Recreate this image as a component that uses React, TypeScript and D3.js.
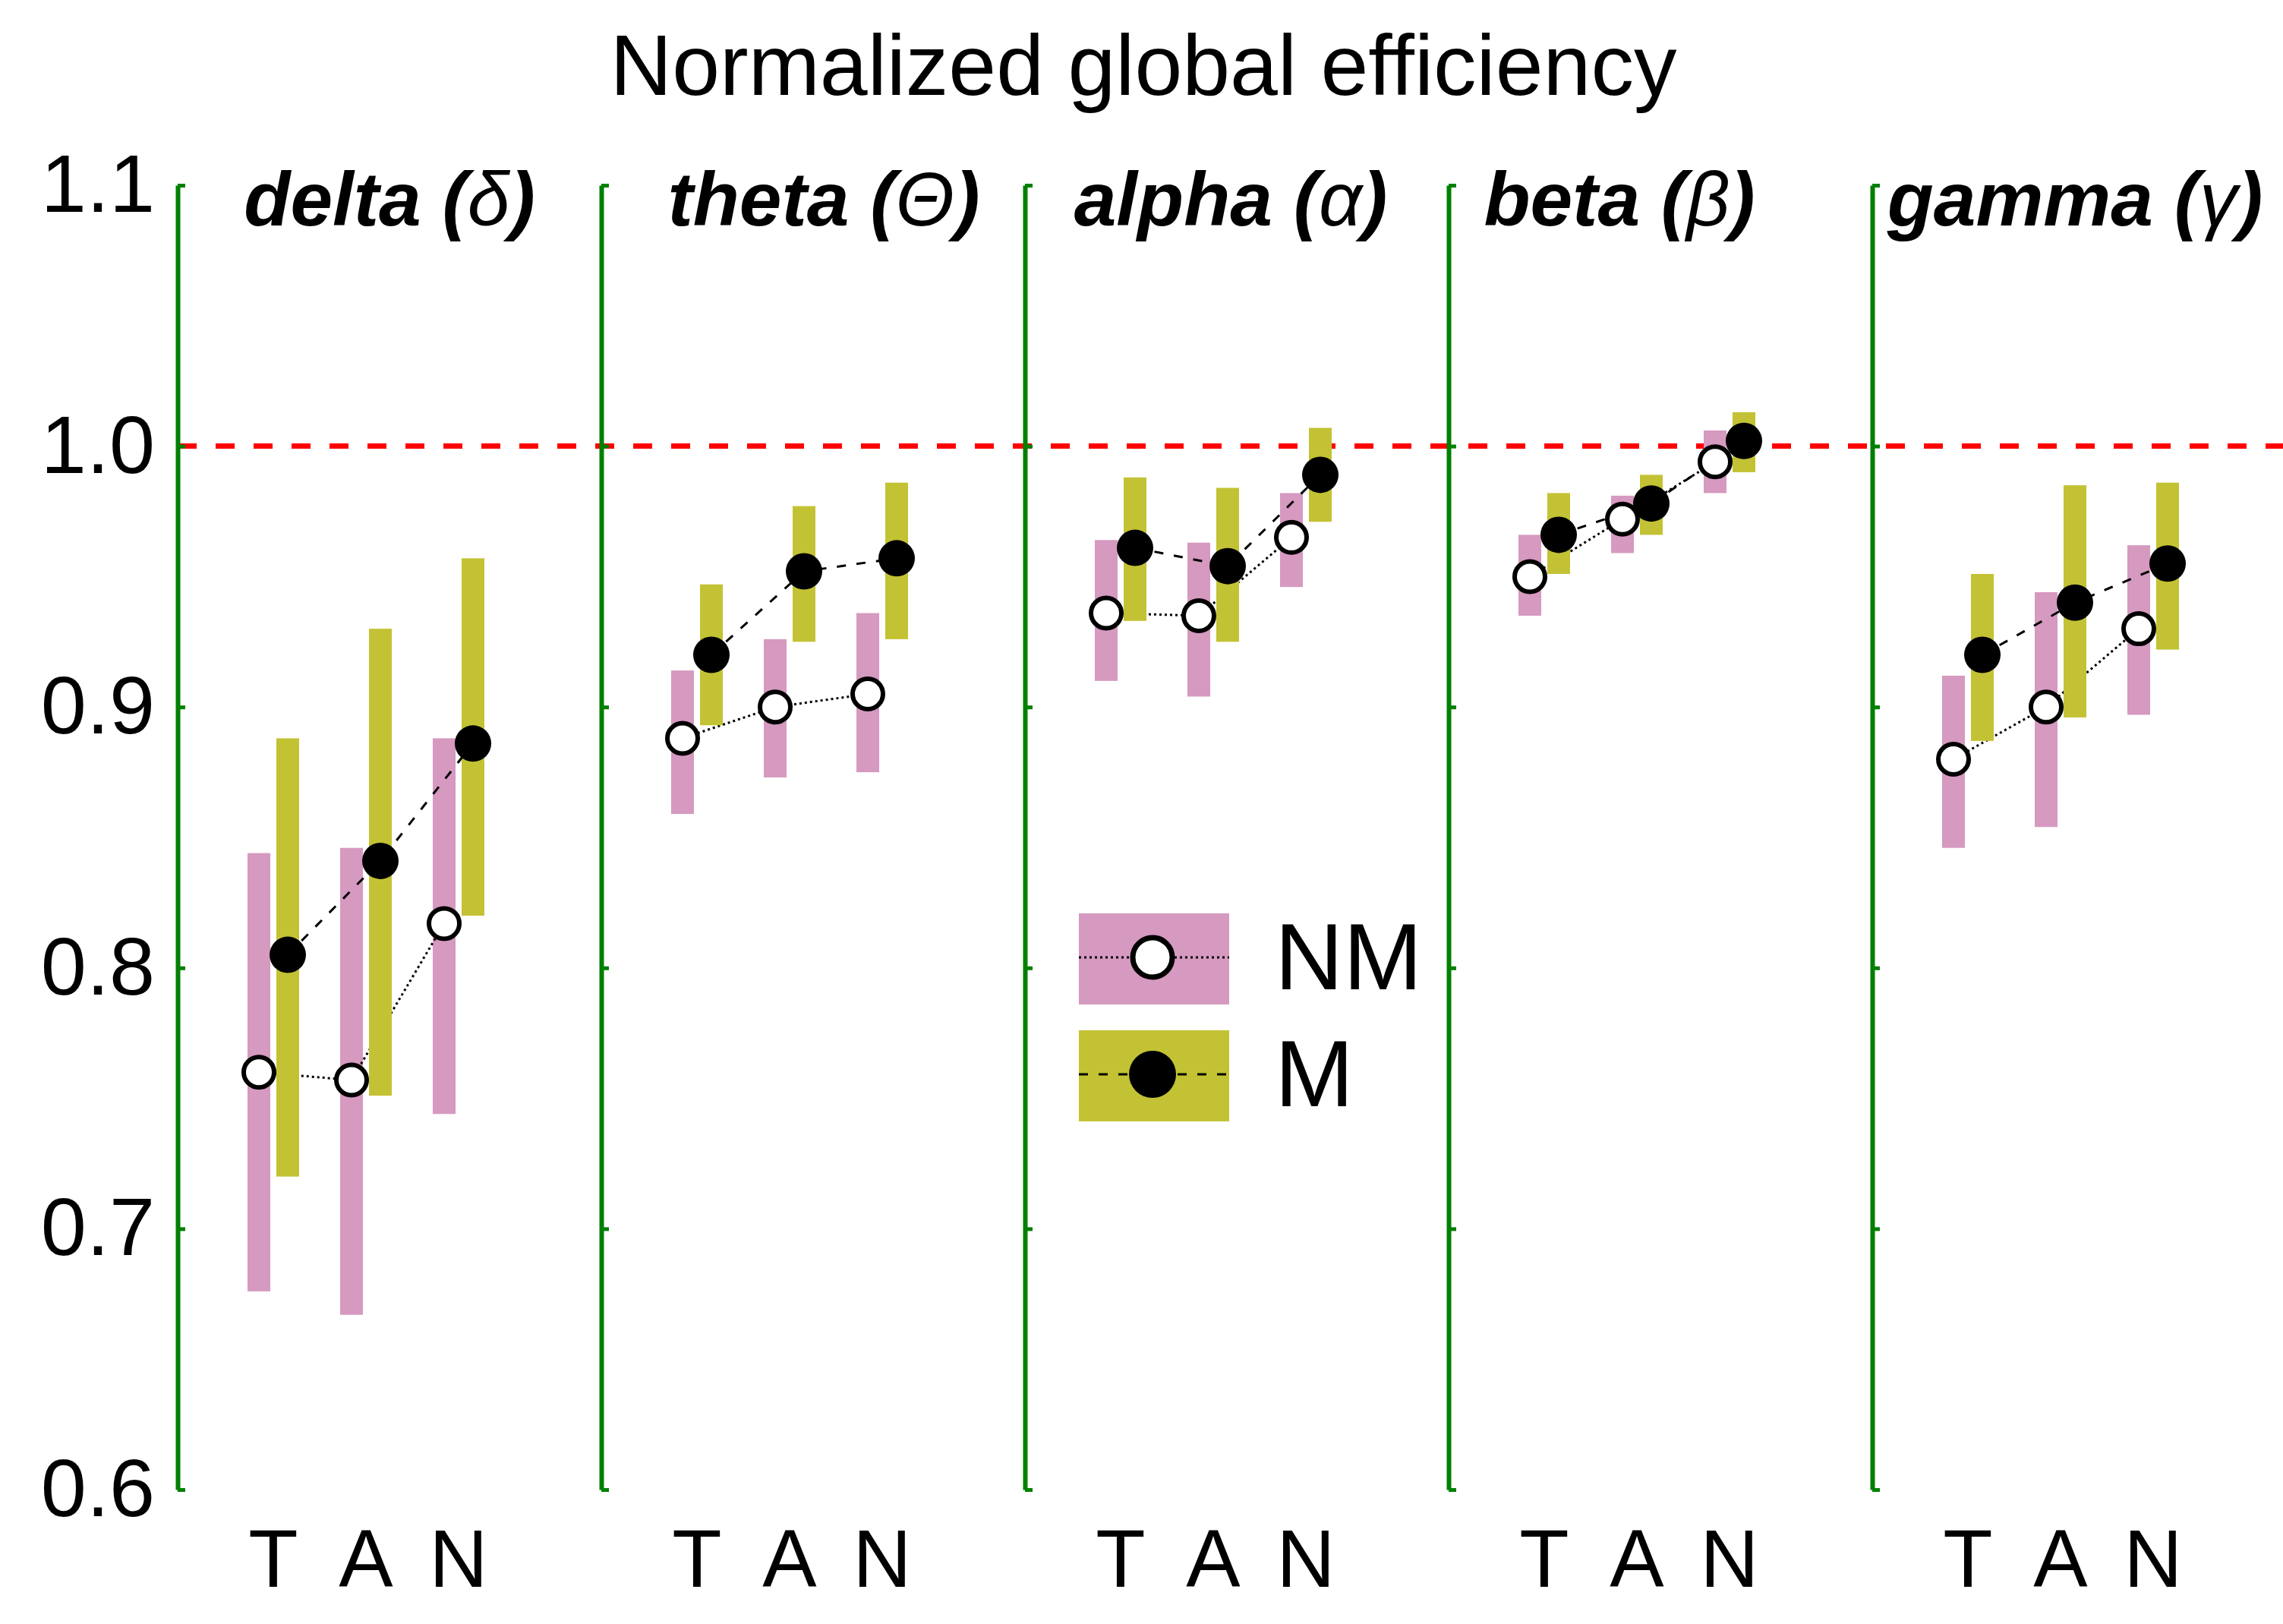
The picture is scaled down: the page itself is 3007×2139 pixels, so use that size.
import React, { useEffect, useRef } from 'react';
import * as d3 from 'd3';

const bands = ['delta', 'theta', 'alpha', 'beta', 'gamma'];
const greek = ['δ', 'Θ', 'α', 'β', 'γ'];
const conditions = ['T', 'A', 'N'];
const groups = ['NM', 'M'];
const yTicks = [0.6, 0.7, 0.8, 0.9, 1.0, 1.1];

// rows follow bands, columns follow conditions (T, A, N)
const nmMean = [
  [0.760, 0.757, 0.817],
  [0.888, 0.900, 0.905],
  [0.936, 0.935, 0.965],
  [0.950, 0.972, 0.994],
  [0.880, 0.900, 0.930],
];
const nmLow = [
  [0.676, 0.667, 0.744],
  [0.859, 0.873, 0.875],
  [0.910, 0.904, 0.946],
  [0.935, 0.959, 0.982],
  [0.846, 0.854, 0.897],
];
const nmHigh = [
  [0.844, 0.846, 0.888],
  [0.914, 0.926, 0.936],
  [0.964, 0.963, 0.982],
  [0.966, 0.981, 1.006],
  [0.912, 0.944, 0.962],
];
const mMean = [
  [0.805, 0.841, 0.886],
  [0.920, 0.952, 0.957],
  [0.961, 0.954, 0.989],
  [0.966, 0.978, 1.002],
  [0.920, 0.940, 0.955],
];
const mLow = [
  [0.720, 0.751, 0.820],
  [0.893, 0.925, 0.926],
  [0.933, 0.925, 0.971],
  [0.951, 0.966, 0.990],
  [0.887, 0.896, 0.922],
];
const mHigh = [
  [0.888, 0.930, 0.957],
  [0.947, 0.977, 0.986],
  [0.988, 0.984, 1.007],
  [0.982, 0.989, 1.013],
  [0.951, 0.985, 0.986],
];

const W = 3007;
const H = 2139;
const FONT = '"Liberation Sans", Arial, sans-serif';
const PINK = '#D699C0';
const OLIVE = '#C3C234';
const GREEN = '#008000';
// small per-panel nudges of the titles, as in the original figure
const titleShift = [0, 14, -8, -54, -12];

export default function App() {
  const svgRef = useRef<SVGSVGElement>(null);

  useEffect(() => {
    if (!svgRef.current) return;
    const root = d3.select(svgRef.current);
    root.selectAll('*').remove();
    root.attr('width', W).attr('height', H);

    root.append('rect').attr('width', W).attr('height', H).attr('fill', '#fff');

    const y = d3.scaleLinear().domain([0.6, 1.1]).range([1962, 244]);
    const panelX = d3.scalePoint<string>().domain(bands).range([234, 2466]);
    const condX = d3.scalePoint<string>().domain(conditions).range([126, 370]);
    const groupX = d3.scalePoint<string>().domain(groups).range([-19, 19]);
    const barW = 30;

    // Title
    root
      .append('text')
      .attr('x', 1506)
      .attr('y', 125)
      .attr('text-anchor', 'middle')
      .attr('font-family', FONT)
      .attr('font-size', 113)
      .attr('fill', '#000')
      .text('Normalized global efficiency');

    // Y tick labels (left panel only)
    root
      .append('g')
      .attr('transform', `translate(${panelX(bands[0])}, 0)`)
      .call(
        d3
          .axisLeft(y)
          .tickValues(yTicks)
          .tickSize(0)
          .tickPadding(30)
          .tickFormat((d) => d3.format('.1f')(d as number))
      )
      .call((g) => g.select('.domain').remove())
      .selectAll('text')
      .attr('font-family', FONT)
      .attr('font-size', 108)
      .attr('fill', '#000');

    const lineGen = d3
      .line<[number, number]>()
      .x((d) => d[0])
      .y((d) => d[1]);

    const markerLayer = root.append('g');

    bands.forEach((band, bi) => {
      const px = panelX(band)!;
      const g = root.append('g').attr('transform', `translate(${px}, 0)`);

      // green axis with inward ticks
      g.append('g')
        .call(
          d3
            .axisRight(y)
            .tickValues(yTicks)
            .tickSize(10)
            .tickSizeOuter(0)
            .tickFormat(() => '')
        )
        .call((a) => a.select('.domain').attr('stroke', GREEN).attr('stroke-width', 6))
        .call((a) => a.selectAll('.tick line').attr('stroke', GREEN).attr('stroke-width', 5));

      // panel title
      const t = g
        .append('text')
        .attr('x', 279 + titleShift[bi])
        .attr('y', 297)
        .attr('text-anchor', 'middle')
        .attr('font-family', FONT)
        .attr('font-size', 100)
        .attr('font-weight', 'bold')
        .attr('font-style', 'italic')
        .attr('fill', '#000');
      t.append('tspan').text(`${band} (`);
      t.append('tspan').attr('font-weight', 'normal').text(greek[bi]);
      t.append('tspan').text(')');

      // condition labels
      g.selectAll('.cond')
        .data(conditions)
        .enter()
        .append('text')
        .attr('x', (d) => condX(d)!)
        .attr('y', 2090)
        .attr('text-anchor', 'middle')
        .attr('font-family', FONT)
        .attr('font-size', 107)
        .attr('fill', '#000')
        .text((d) => d);

      const nmPts: [number, number][] = conditions.map((c, ci) => [
        condX(c)! + groupX('NM')!,
        y(nmMean[bi][ci]),
      ]);
      const mPts: [number, number][] = conditions.map((c, ci) => [
        condX(c)! + groupX('M')!,
        y(mMean[bi][ci]),
      ]);

      // NM bars
      conditions.forEach((c, ci) => {
        g.append('rect')
          .attr('x', condX(c)! + groupX('NM')! - barW / 2)
          .attr('y', y(nmHigh[bi][ci]))
          .attr('width', barW)
          .attr('height', y(nmLow[bi][ci]) - y(nmHigh[bi][ci]))
          .attr('fill', PINK);
      });

      // NM line (dotted)
      g.append('path')
        .attr('d', lineGen(nmPts))
        .attr('fill', 'none')
        .attr('stroke', '#000')
        .attr('stroke-width', 3)
        .attr('stroke-dasharray', '3,4');

      // M bars
      conditions.forEach((c, ci) => {
        g.append('rect')
          .attr('x', condX(c)! + groupX('M')! - barW / 2)
          .attr('y', y(mHigh[bi][ci]))
          .attr('width', barW)
          .attr('height', y(mLow[bi][ci]) - y(mHigh[bi][ci]))
          .attr('fill', OLIVE);
      });

      // M line (dashed)
      g.append('path')
        .attr('d', lineGen(mPts))
        .attr('fill', 'none')
        .attr('stroke', '#000')
        .attr('stroke-width', 3)
        .attr('stroke-dasharray', '12,14');

      const mg = markerLayer.append('g').attr('transform', `translate(${px}, 0)`);
      mg.selectAll('.nm')
        .data(nmPts)
        .enter()
        .append('circle')
        .attr('cx', (d) => d[0])
        .attr('cy', (d) => d[1])
        .attr('r', 20)
        .attr('fill', '#fff')
        .attr('stroke', '#000')
        .attr('stroke-width', 6);
      mg.selectAll('.m')
        .data(mPts)
        .enter()
        .append('circle')
        .attr('cx', (d) => d[0])
        .attr('cy', (d) => d[1])
        .attr('r', 24)
        .attr('fill', '#000');
    });

    // reference line at 1.0, under the markers
    root
      .insert('line', () => markerLayer.node())
      .attr('x1', panelX(bands[0])!)
      .attr('x2', W)
      .attr('y1', y(1.0))
      .attr('y2', y(1.0))
      .attr('stroke', '#FF0000')
      .attr('stroke-width', 7)
      .attr('stroke-dasharray', '25,25');
    markerLayer.raise();

    // Legend
    const lg = root.append('g').attr('transform', 'translate(1421, 1203)');
    const legendRows = [
      { label: 'NM', color: PINK, dash: '3,4', open: true },
      { label: 'M', color: OLIVE, dash: '12,14', open: false },
    ];
    legendRows.forEach((row, i) => {
      const ry = i * 154;
      lg.append('rect')
        .attr('x', 0)
        .attr('y', ry)
        .attr('width', 198)
        .attr('height', 120)
        .attr('fill', row.color);
      lg.append('line')
        .attr('x1', 0)
        .attr('x2', 198)
        .attr('y1', ry + 58)
        .attr('y2', ry + 58)
        .attr('stroke', '#000')
        .attr('stroke-width', 3)
        .attr('stroke-dasharray', row.dash);
      lg.append('circle')
        .attr('cx', 97)
        .attr('cy', ry + 58)
        .attr('r', row.open ? 26 : 31)
        .attr('fill', row.open ? '#fff' : '#000')
        .attr('stroke', '#000')
        .attr('stroke-width', row.open ? 7 : 0);
      lg.append('text')
        .attr('x', 258)
        .attr('y', ry + 100)
        .attr('font-family', FONT)
        .attr('font-size', 125)
        .attr('fill', '#000')
        .text(row.label);
    });
  }, []);

  return (
    <div style={{ position: 'absolute', left: 0, top: 0, background: '#fff' }}>
      <svg ref={svgRef} style={{ display: 'block' }}></svg>
    </div>
  );
}
